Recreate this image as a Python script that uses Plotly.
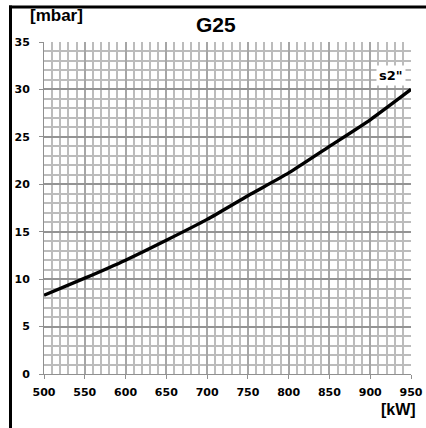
import plotly.graph_objects as go

power_kw = [500, 550, 600, 650, 700, 750, 800, 850, 900, 950]
pressure_mbar = [8.3, 10.1, 12.0, 14.1, 16.3, 18.8, 21.2, 24.0, 26.8, 30.0]
x_ticks = [500, 550, 600, 650, 700, 750, 800, 850, 900, 950]
y_ticks = [0, 5, 10, 15, 20, 25, 30, 35]

W, H = 426, 428
L, R, T, B = 44, 15, 42, 54
pw, ph = W - L - R, H - T - B

def px2paper_x(px):
    return (px - L) / pw

def px2paper_y(py):
    return (H - B - py) / ph

fig = go.Figure()
fig.add_trace(go.Scatter(x=power_kw, y=pressure_mbar, mode="lines",
                         line=dict(color="black", width=3.4, shape="spline", smoothing=0.6),
                         hoverinfo="skip", showlegend=False))

tickfont = dict(family="DejaVu Sans", size=11, color="black", weight="bold")

fig.update_layout(
    width=W, height=H, autosize=False,
    margin=dict(l=L, r=R, t=T, b=B, autoexpand=False),
    paper_bgcolor="white", plot_bgcolor="white",
    showlegend=False,
    xaxis=dict(range=[500, 950], tickvals=x_ticks, ticktext=[f"{v}" for v in x_ticks],
               showgrid=True, gridcolor="#a6a6a6", gridwidth=2,
               minor=dict(dtick=10, showgrid=True, gridcolor="#bcbcbc", gridwidth=2),
               ticks="outside", ticklen=4, tickcolor="#909090", tickwidth=1,
               ticklabelstandoff=4, automargin=False,
               showline=True, linecolor="#909090", linewidth=1,
               zeroline=False, tickfont=tickfont, fixedrange=True),
    yaxis=dict(range=[0, 35], tickvals=y_ticks, ticktext=[f"{v}" for v in y_ticks],
               showgrid=True, gridcolor="#949494", gridwidth=2,
               minor=dict(dtick=1, showgrid=True, gridcolor="#bcbcbc", gridwidth=2),
               ticks="outside", ticklen=4, tickcolor="#909090", tickwidth=1,
               ticklabelstandoff=7, automargin=False,
               showline=True, linecolor="#909090", linewidth=1,
               zeroline=False, tickfont=tickfont, fixedrange=True),
)

# frame lines (top and left)
fig.add_shape(type="line", xref="paper", yref="paper",
              x0=px2paper_x(9), x1=px2paper_x(W + 2), y0=px2paper_y(7), y1=px2paper_y(7),
              line=dict(color="black", width=3))
fig.add_shape(type="line", xref="paper", yref="paper",
              x0=px2paper_x(10.5), x1=px2paper_x(10.5), y0=px2paper_y(5.5), y1=px2paper_y(H + 2),
              line=dict(color="black", width=3))

bold = dict(family="Liberation Sans, Arial", color="black", weight="bold")
fig.add_annotation(text="G25", xref="paper", yref="paper",
                   x=px2paper_x(216), y=px2paper_y(24.5), showarrow=False,
                   font=dict(size=21, **bold), xanchor="center", yanchor="middle")
fig.add_annotation(text="[mbar]", xref="paper", yref="paper",
                   x=px2paper_x(56.5), y=px2paper_y(16), showarrow=False,
                   font=dict(size=17, **bold), xanchor="center", yanchor="middle")
fig.add_annotation(text="[kW]", xref="paper", yref="paper",
                   x=px2paper_x(398), y=px2paper_y(409.5), showarrow=False,
                   font=dict(size=16, **bold), xanchor="center", yanchor="middle")
fig.add_annotation(text="s2\"", xref="paper", yref="paper",
                   x=px2paper_x(391), y=px2paper_y(75), showarrow=False,
                   bgcolor="white", borderpad=2,
                   font=dict(family="DejaVu Sans", size=13, color="black", weight="bold"),
                   xanchor="center", yanchor="middle")

fig.write_html("out.html",
               config={"displayModeBar": False, "responsive": False},
               post_script="document.body.style.margin='0';document.body.style.overflow='hidden';"
                           "document.documentElement.style.overflow='hidden';")
